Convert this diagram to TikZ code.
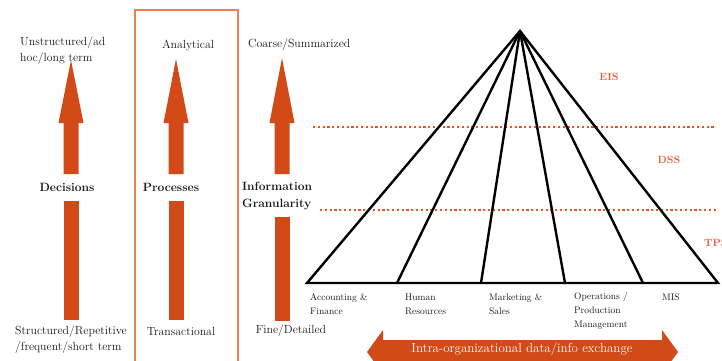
\documentclass[tikz,border=0pt]{standalone}
\usepackage{fontspec}
\begin{document}
\begin{tikzpicture}[x=1pt,y=-1pt,
  txt/.style={text=textgray,inner sep=0pt,font=\fontsize{11.8}{16}\selectfont},
  head/.style={text=textgray,inner sep=0pt,font=\fontsize{12}{17}\selectfont\bfseries},
  dept/.style={text=textgray,inner sep=0pt,anchor=west,align=left,font=\fontsize{9.5}{14}\selectfont},
  tier/.style={text=tiercol,inner sep=0pt,font=\fontsize{10.5}{12}\selectfont\bfseries},
  level/.style={draw=dotcol,line width=2pt,dash pattern=on 2.2pt off 2.6pt},
  edge/.style={draw=black,line width=2.4pt,line join=miter}]
\definecolor{arrowcol}{RGB}{210,74,24}
\definecolor{boxcol}{RGB}{240,125,85}
\definecolor{dotcol}{RGB}{232,84,30}
\definecolor{tiercol}{RGB}{228,98,66}
\definecolor{textgray}{RGB}{22,22,32}
\useasboundingbox (0,0) rectangle (722,360);

% frame around the process column
\draw[boxcol,line width=1.5pt] (135,380) -- (135,10) -- (238,10) -- (238,380);

% vertical scale arrows (tip x, tip y, lower shaft start, lower shaft end)
\foreach \cx/\ty/\ls/\le in {71/60/201/320, 176/59/201/320, 282/58/217/321}{
  \fill[arrowcol] (\cx,\ty) -- (\cx+12.5,123) -- (\cx+7.5,123) -- (\cx+7.5,174)
     -- (\cx-7.5,174) -- (\cx-7.5,123) -- (\cx-12.5,123) -- cycle;
  \fill[arrowcol] (\cx-7.5,\ls) rectangle (\cx+7.5,\le);
}

% column labels
\node[txt,anchor=west,align=left] (ustr) at (20,51) {Unstructured/ad\\hoc/long term};
\node[txt] (anal) at (188,45) {Analytical};
\node[txt,anchor=west] (coarse) at (248,45) {Coarse/Summarized};
\node[head] (dec) at (67,187) {Decisions};
\node[head] (proc) at (171,187) {Processes};
\node[head,anchor=west,align=left] (gran) at (242,196) {Information\\Granularity};
\node[txt,anchor=west,align=left] (str) at (15,340) {Structured/Repetitive\\/frequent/short term};
\node[txt] (trans) at (181,331) {Transactional};
\node[txt] (fine) at (291,331) {Fine/Detailed};

% tier boundaries
\coordinate (l1a) at (313,127); \coordinate (l1b) at (716,127);
\coordinate (l2a) at (320,210); \coordinate (l2b) at (716,210);
\draw[level] (l1a) -- (l1b);
\draw[level] (l2a) -- (l2b);

% pyramid
\coordinate (apex) at (520,31);
\coordinate (b0) at (307,283);
\coordinate (b1) at (397,283);
\coordinate (b2) at (481,283);
\coordinate (b3) at (565,283);
\coordinate (b4) at (643,283);
\coordinate (b5) at (718,283);
\draw[edge] (b0) -- (apex) -- (b5) -- cycle;
\foreach \b in {b1,b2,b3,b4}{ \draw[edge] (apex) -- (\b); }

% tier names
\node[tier] (eis) at (609,77) {EIS};
\node[tier] (dss) at (669,160) {DSS};
\node[tier,anchor=west] (tps) at (704,243) {TPS};

% functional areas
\node[dept] (acc) at (310,304) {Accounting \&\\Finance};
\node[dept] (hr) at (405,304) {Human\\Resources};
\node[dept] (mkt) at (489,304) {Marketing \&\\Sales};
\node[dept] (ops) at (574,311) {Operations /\\Production\\Management};
\node[dept] (mis) at (662,297) {MIS};

% exchange arrow
\fill[arrowcol] (367,352) -- (383,330) -- (383,340) -- (662,340) -- (662,330)
   -- (678,352) -- (662,374) -- (662,364) -- (383,364) -- (383,374) -- cycle;
\node[text=white,inner sep=0pt,font=\fontsize{13}{15}\selectfont] (xch) at (522,349) {Intra-organizational data/info exchange};
\end{tikzpicture}
\end{document}
